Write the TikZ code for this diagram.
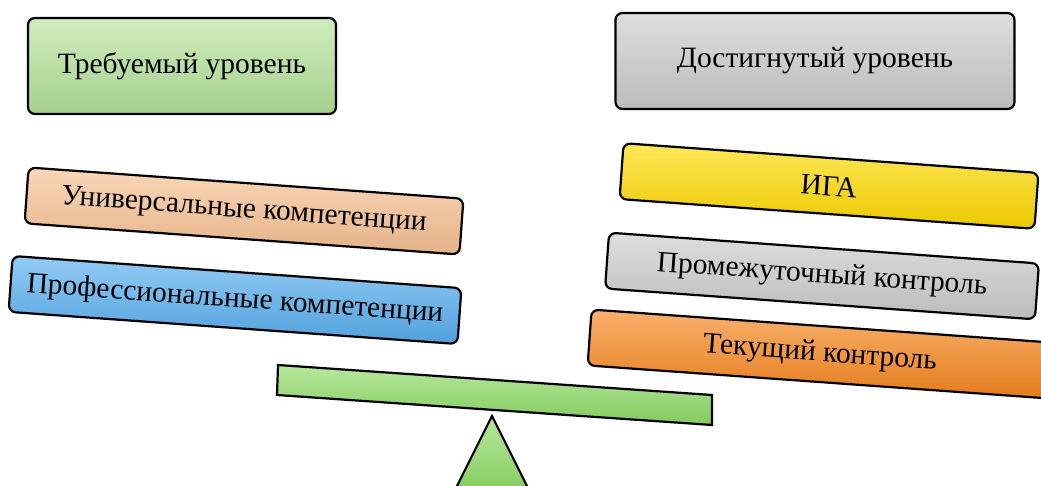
\documentclass[tikz,border=0pt]{standalone}
\usepackage{fontspec}
\setmainfont{Liberation Serif}
\usetikzlibrary{positioning}

\definecolor{reqgreen}{HTML}{B5E29A}
\definecolor{achgray}{HTML}{CCCCCC}
\definecolor{unipeach}{HTML}{F8C293}
\definecolor{profblue}{HTML}{58AFF0}
\definecolor{igayellow}{HTML}{FFDA00}
\definecolor{curorange}{HTML}{F7871E}
\definecolor{beamgreen}{HTML}{8FDB66}

\begin{document}
\begin{tikzpicture}[x=1pt,y=-1pt,
    plate/.style={draw=black,line width=2.2pt,rounded corners=7pt,
        inner sep=0pt,font=\fontsize{29.5}{32}\selectfont},
    flat/.style={plate,minimum height=96pt},
    tilted/.style={plate,rotate=-4.1,minimum height=56pt},
    tint/.style={top color=#1!65!white,middle color=#1,bottom color=#1!92!black}]
    \useasboundingbox (0,0) rectangle (1041,486);

    % two headings
    \node[flat,tint=reqgreen,minimum width=308pt] (req) at (182,66)  {Требуемый уровень};
    \node[flat,tint=achgray,minimum width=399pt]  (ach) at (815,61)  {Достигнутый уровень};

    % left pan
    \node[tilted,tint=unipeach,minimum width=436pt]  (uni)  at (244,211) {Универсальные компетенции};
    \node[tilted,tint=profblue,minimum width=450pt]  (prof) at (235,300) {Профессиональные компетенции};

    % right pan
    \node[tilted,tint=igayellow,minimum width=416pt] (iga) at (829,186) {ИГА};
    \node[tilted,tint=achgray,minimum width=431pt]   (mid) at (822,276) {Промежуточный контроль};
    \node[tilted,tint=curorange,minimum width=462pt] (cur) at (820,354) {Текущий контроль};

    % scales
    \draw[line width=2.2pt,tint=beamgreen] (278,365) -- (712,395) -- (712,425) -- (277,395) -- cycle;
    \draw[line width=2.2pt,tint=beamgreen] (492,416) -- (532,496) -- (452,496) -- cycle;
\end{tikzpicture}
\end{document}
